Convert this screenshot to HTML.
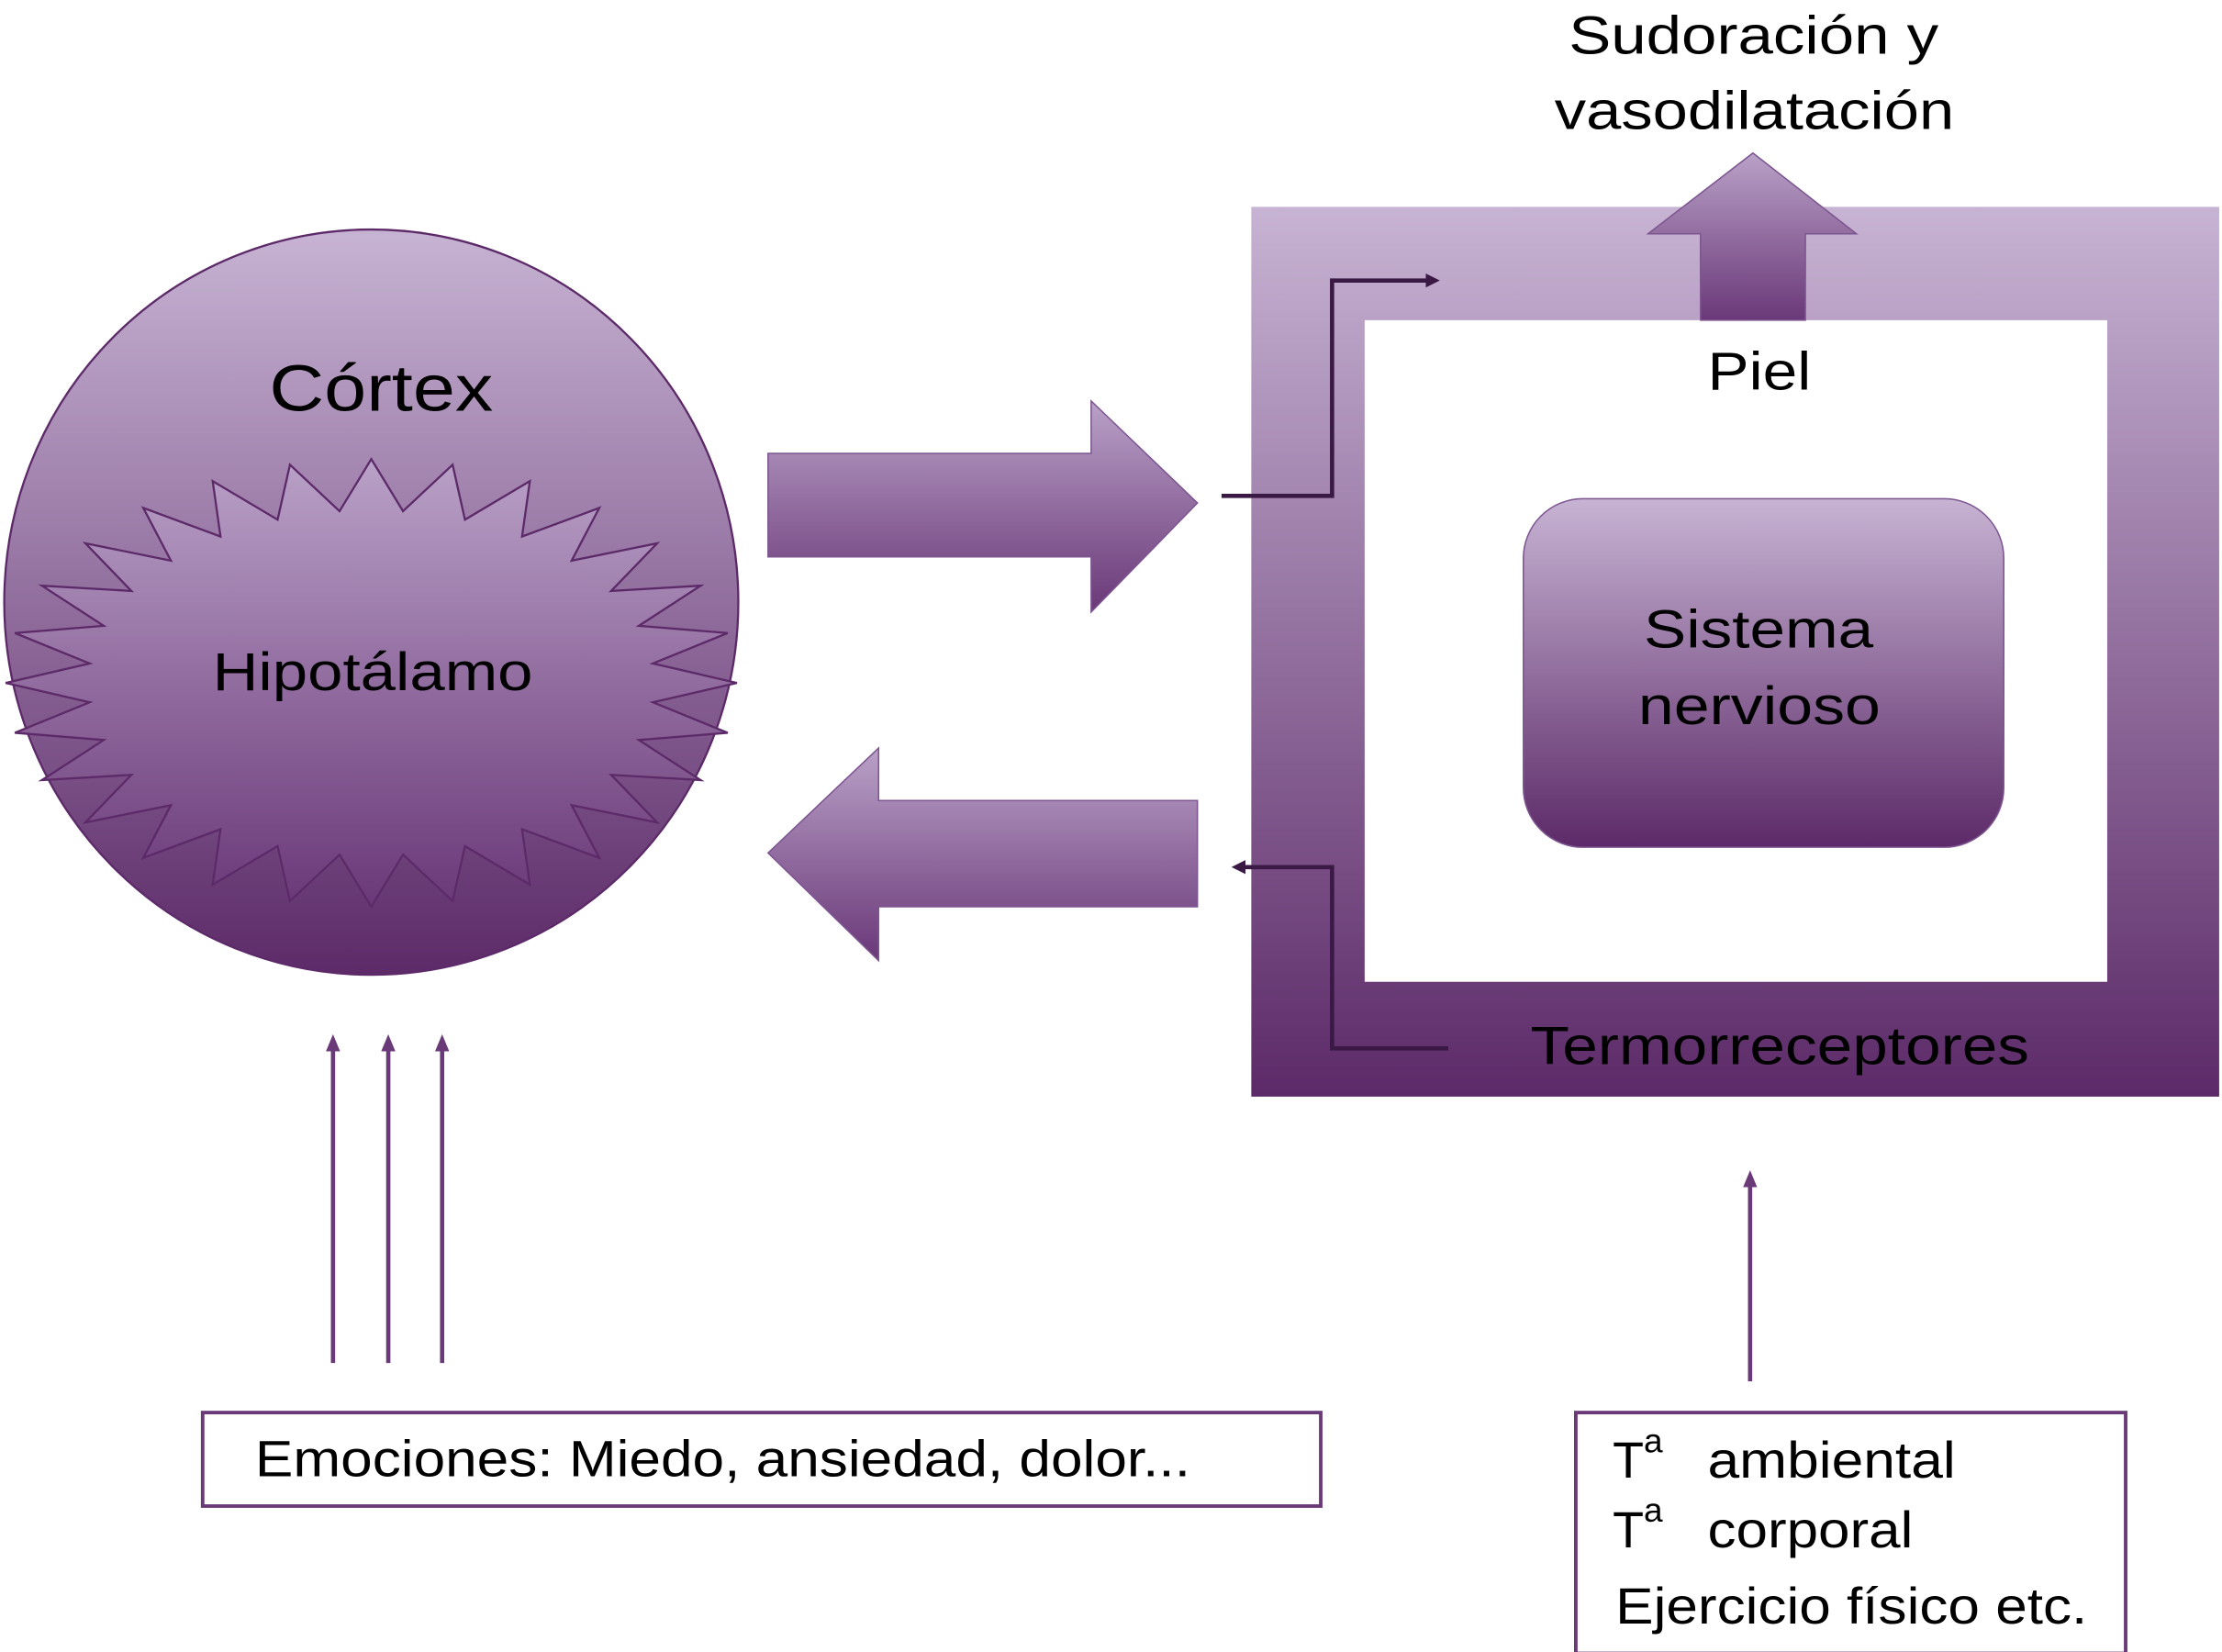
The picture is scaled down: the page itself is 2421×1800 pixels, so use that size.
<!DOCTYPE html>
<html><head><meta charset="utf-8"><style>
html,body{margin:0;padding:0;background:#fff;}
svg{display:block;}
text{font-family:"Liberation Sans",sans-serif;fill:#000;}
</style></head><body>
<svg width="2421" height="1800" viewBox="0 0 1568 1166" preserveAspectRatio="none" xmlns="http://www.w3.org/2000/svg">
<defs>
<linearGradient id="g" x1="0" y1="0" x2="0" y2="1">
<stop offset="0" stop-color="#c7b3d3"/><stop offset="1" stop-color="#5c2a68"/></linearGradient>
<linearGradient id="g2" x1="0" y1="0" x2="0" y2="1">
<stop offset="0" stop-color="#b9a1c7"/><stop offset="1" stop-color="#6a3878"/></linearGradient>
<marker id="ah" markerWidth="10" markerHeight="10" refX="7" refY="5" orient="auto" markerUnits="userSpaceOnUse">
<path d="M0,0 L10,5 L0,10 Z" fill="#3a1a45"/></marker>
<marker id="ap" markerWidth="12" markerHeight="12" refX="6" refY="6" orient="auto" markerUnits="userSpaceOnUse">
<path d="M0,1 L12,6 L0,11 Z" fill="#6a3a78"/></marker>
</defs>
<ellipse cx="262" cy="425" rx="259" ry="263" fill="url(#g)" stroke="#5c2a68" stroke-width="1.5"/>
<polygon id="star" fill="url(#g2)" stroke="#5c2a68" stroke-width="1.5" points=""/>
<script>
(function(){var p=[],n=28,cx=262,cy=482;for(var i=0;i<2*n;i++){var a=Math.PI*i/n-Math.PI/2;var o=i%2==0;var rx=o?258:200,ry=o?158:122;p.push((cx+rx*Math.cos(a)).toFixed(1)+","+(cy+ry*Math.sin(a)).toFixed(1));}document.getElementById('star').setAttribute('points',p.join(' '));})();
</script>
<text x="190" y="290" font-size="46" textLength="158" lengthAdjust="spacingAndGlyphs">Córtex</text>
<text x="150" y="487" font-size="38" textLength="226" lengthAdjust="spacingAndGlyphs">Hipotálamo</text>
<polygon points="542,320 770,320 770,283 845,355 770,432 770,393 542,393" fill="url(#g2)" stroke="#7d5590" stroke-width="1"/>
<polygon points="845,565 620,565 620,528 542,602 620,678 620,640 845,640" fill="url(#g2)" stroke="#7d5590" stroke-width="1"/>
<path d="M883,146 H1566 V774 H883 Z M963,226 V693 H1487 V226 Z" fill="url(#g)" fill-rule="evenodd"/>
<polygon points="1200,226 1200,165 1163,165 1237,108 1310,165 1274,165 1274,226" fill="url(#g2)" stroke="#7d5590" stroke-width="1"/>
<rect x="1075" y="352" width="339" height="246" rx="42" fill="url(#g)" stroke="#7d5590" stroke-width="1"/>
<polyline points="862,350 940,350 940,198 1013,198" fill="none" stroke="#3a1a45" stroke-width="3" marker-end="url(#ah)"/>
<polyline points="1022,740 940,740 940,612 872,612" fill="none" stroke="#3a1a45" stroke-width="3" marker-end="url(#ah)"/>
<text x="1107" y="38" font-size="38" textLength="261" lengthAdjust="spacingAndGlyphs">Sudoración y</text>
<text x="1097" y="91" font-size="38" textLength="282" lengthAdjust="spacingAndGlyphs">vasodilatación</text>
<text x="1205" y="275" font-size="38" textLength="73" lengthAdjust="spacingAndGlyphs">Piel</text>
<text x="1160" y="457" font-size="38" textLength="162" lengthAdjust="spacingAndGlyphs">Sistema</text>
<text x="1156" y="511" font-size="38" textLength="171" lengthAdjust="spacingAndGlyphs">nervioso</text>
<text x="1080" y="751" font-size="38" textLength="352" lengthAdjust="spacingAndGlyphs">Termorreceptores</text>
<line x1="235" y1="962" x2="235" y2="736" stroke="#6a3a78" stroke-width="3" marker-end="url(#ap)"/>
<line x1="274" y1="962" x2="274" y2="736" stroke="#6a3a78" stroke-width="3" marker-end="url(#ap)"/>
<line x1="312" y1="962" x2="312" y2="736" stroke="#6a3a78" stroke-width="3" marker-end="url(#ap)"/>
<line x1="1235" y1="975" x2="1235" y2="832" stroke="#6a3a78" stroke-width="3" marker-end="url(#ap)"/>
<rect x="143" y="997" width="789" height="66" fill="#fff" stroke="#6a3a78" stroke-width="2.5"/>
<text x="180" y="1042" font-size="36" textLength="660" lengthAdjust="spacingAndGlyphs">Emociones: Miedo, ansiedad, dolor...</text>
<rect x="1112" y="997" width="388" height="170" fill="#fff" stroke="#6a3a78" stroke-width="2.5"/>
<text x="1138" y="1043" font-size="36">T<tspan font-size="24" dy="-18">a</tspan></text>
<text x="1205" y="1043" font-size="36" textLength="175" lengthAdjust="spacingAndGlyphs">ambiental</text>
<text x="1138" y="1092" font-size="36">T<tspan font-size="24" dy="-18">a</tspan></text>
<text x="1205" y="1092" font-size="36" textLength="145" lengthAdjust="spacingAndGlyphs">corporal</text>
<text x="1140" y="1146" font-size="36" textLength="333" lengthAdjust="spacingAndGlyphs">Ejercicio físico etc.</text>
</svg>
</body></html>
